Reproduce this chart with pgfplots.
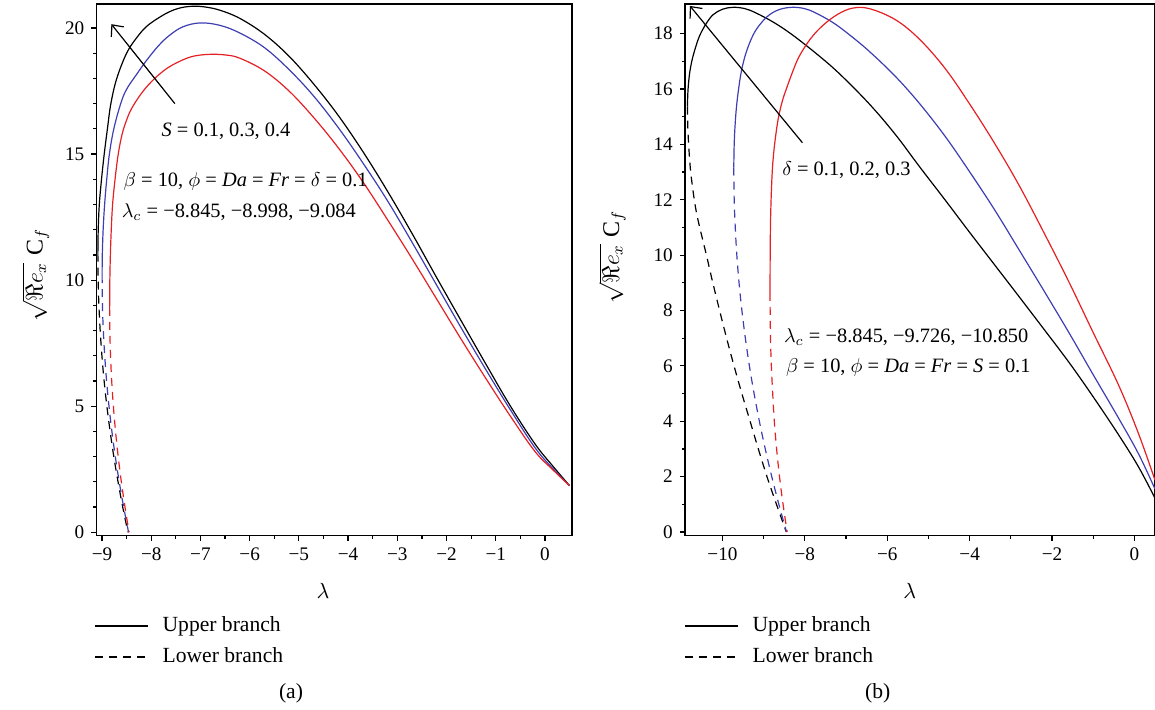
\documentclass[border=0pt]{standalone}
\usepackage{fontspec}
\setmainfont{Liberation Serif}
\usepackage{pgfplots}
\pgfplotsset{compat=1.18}
\usetikzlibrary{arrows.meta}
\definecolor{cred}{RGB}{228,32,36}
\definecolor{cblue}{RGB}{62,62,178}
\tikzset{ann/.style={font=\fontsize{10.2}{12}\selectfont, anchor=center, inner sep=0pt}}
\pgfplotsset{
  myaxis/.style={
    scale only axis,
    anchor=south west,
    clip=false,
    axis line style={line width=0.75pt},
    tick align=outside,
    xtick pos=left, ytick pos=left,
    major tick length=2.6pt, minor tick length=1.6pt,
    every tick/.style={black, line width=0.6pt},
    tick label style={font=\fontsize{9.6}{11}\selectfont},
    /pgf/number format/assume math mode=true,
    xlabel style={font=\fontsize{10.5}{12}\selectfont},
    ylabel style={font=\fontsize{12}{14}\selectfont},
    legend style={draw=none, fill=none, font=\fontsize{10.8}{13}\selectfont,
      legend cell align=left, row sep=6.5pt, column sep=7pt,
      nodes={inner sep=0pt, text height=1.6ex, text depth=0.35ex}},
    legend image code/.code={\draw[##1] (0pt,0pt) -- (26.5pt,0pt);},
  },
}
\begin{document}
\begin{tikzpicture}
\path[use as bounding box] (0,0) rectangle (577.5pt,355pt);
% ---------------- (a) ----------------
\begin{axis}[myaxis, at={(48.3pt,87.2pt)}, width=237.7pt, height=265.8pt,
  xmin=-9.11, xmax=0.55, ymin=-0.13, ymax=20.95,
  xtick={-9,-8,...,0}, xticklabels={−9,−8,−7,−6,−5,−4,−3,−2,−1,0},
  minor x tick num=1,
  ytick={0,5,10,15,20}, minor y tick num=4,
  xlabel={$\lambda$}, ylabel={$\sqrt{\Re e_x}\;\mathrm{C}_f$},
  xlabel style={at={(axis description cs:0.476,-0.104)}, anchor=center},
  ylabel style={at={(axis description cs:-0.128,0.49)}, anchor=center},
  legend style={at={(axis description cs:-0.018,-0.145)}, anchor=north west},
]
\addlegendimage{black, line width=0.6pt}
\addlegendentry{Upper branch}
\addlegendimage{black, line width=0.6pt, dash pattern=on 4pt off 3pt}
\addlegendentry{Lower branch}
% S = 0.4 (black)
\addplot[black, line width=0.6pt, smooth, tension=0.6, forget plot] coordinates {(-9.084,11.05) (-9.077,12) (-9.055,13) (-9.01,14) (-8.955,15) (-8.89,16) (-8.82,17) (-8.7,18) (-8.5,19) (-8.3,19.6) (-8.1,20.05) (-7.85,20.4) (-7.62,20.65) (-7.4,20.8) (-7.15,20.86) (-6.9,20.83) (-6.6,20.7) (-6.2,20.38) (-5.7,19.75) (-5.2,18.88) (-4.7,17.78) (-4.2,16.53) (-3.7,15.1) (-3.2,13.53) (-2.7,11.85) (-2.2,10.1) (-1.7,8.38) (-1.2,6.67) (-0.7,5.0) (-0.2,3.5) (0.15,2.65) (0.5,1.85)};
\addplot[black, line width=0.6pt, dash pattern=on 4pt off 3pt, smooth, tension=0.6, forget plot] coordinates {(-9.084,11.05) (-9.078,10) (-9.063,9) (-9.037,8) (-9.002,7) (-8.957,6) (-8.901,5) (-8.835,4) (-8.76,3) (-8.674,2) (-8.579,1) (-8.473,0)};
% S = 0.3 (blue)
\addplot[cblue, line width=0.6pt, smooth, tension=0.6, forget plot] coordinates {(-8.998,10.2) (-8.994,11) (-8.977,12) (-8.947,13) (-8.904,14) (-8.85,15) (-8.76,16) (-8.62,17) (-8.5,17.57) (-8.3,18.15) (-8.1,18.7) (-7.85,19.3) (-7.62,19.72) (-7.35,20.05) (-7.0,20.2) (-6.6,20.1) (-6.2,19.8) (-5.7,19.22) (-5.2,18.35) (-4.7,17.3) (-4.2,16.05) (-3.7,14.65) (-3.2,13.15) (-2.7,11.5) (-2.2,9.8) (-1.7,8.1) (-1.2,6.45) (-0.7,4.85) (-0.2,3.35) (0.15,2.55) (0.5,1.85)};
\addplot[cblue, line width=0.6pt, dash pattern=on 4pt off 3pt, smooth, tension=0.6, forget plot] coordinates {(-8.998,10.2) (-8.991,9) (-8.973,8) (-8.945,7) (-8.907,6) (-8.858,5) (-8.799,4) (-8.73,3) (-8.65,2) (-8.56,1) (-8.46,0)};
% S = 0.1 (red)
\addplot[cred, line width=0.6pt, smooth, tension=0.6, forget plot] coordinates {(-8.845,8.9) (-8.841,10) (-8.83,11) (-8.812,12) (-8.785,13) (-8.735,14) (-8.67,15) (-8.59,15.8) (-8.5,16.35) (-8.4,16.8) (-8.22,17.35) (-8.03,17.8) (-7.8,18.22) (-7.56,18.54) (-7.2,18.85) (-6.85,18.95) (-6.5,18.93) (-6.2,18.8) (-5.7,18.3) (-5.2,17.5) (-4.7,16.45) (-4.2,15.25) (-3.7,13.9) (-3.2,12.4) (-2.7,10.85) (-2.2,9.25) (-1.7,7.65) (-1.2,6.1) (-0.7,4.6) (-0.2,3.2) (0.15,2.5) (0.5,1.85)};
\addplot[cred, line width=0.6pt, dash pattern=on 4pt off 3pt, smooth, tension=0.6, forget plot] coordinates {(-8.845,8.9) (-8.841,8) (-8.827,7) (-8.803,6) (-8.769,5) (-8.725,4) (-8.671,3) (-8.607,2) (-8.533,1) (-8.45,0)};
\draw[-{Straight Barb[length=4.5pt,width=8pt]}, line width=0.6pt] (axis cs:-7.52,17.0) -- (axis cs:-8.81,20.15);
\node[ann] at (axis cs:-6.48,15.9) {\textit{S} = 0.1, 0.3, 0.4};
\node[ann] at (axis cs:-6.08,13.9) {$\beta$ = 10, $\phi$ = \textit{Da} = \textit{Fr} = $\delta$ = 0.1};
\node[ann] at (axis cs:-6.22,12.7) {$\lambda_c$ = −8.845, −8.998, −9.084};
\node[font=\fontsize{10.8}{13}\selectfont] at (axis description cs:0.409,-0.296) {(a)};
\end{axis}
% ---------------- (b) ----------------
\begin{axis}[myaxis, at={(342.5pt,87.2pt)}, width=235pt, height=265.8pt,
  xmin=-10.91, xmax=0.5, ymin=-0.13, ymax=19.07,
  xtick={-10,-8,...,0}, xticklabels={−10,−8,−6,−4,−2,0},
  minor x tick num=1,
  ytick={0,2,...,18}, minor y tick num=1,
  xlabel={$\lambda$}, ylabel={$\sqrt{\Re e_x}\;\mathrm{C}_f$},
  xlabel style={at={(axis description cs:0.478,-0.104)}, anchor=center},
  ylabel style={at={(axis description cs:-0.155,0.524)}, anchor=center},
  legend style={at={(axis description cs:-0.015,-0.145)}, anchor=north west},
]
\addlegendimage{black, line width=0.6pt}
\addlegendentry{Upper branch}
\addlegendimage{black, line width=0.6pt, dash pattern=on 4pt off 3pt}
\addlegendentry{Lower branch}
% delta = 0.3 (black)
\addplot[black, line width=0.6pt, smooth, tension=0.6, forget plot] coordinates {(-10.85,15.36) (-10.843,15.8) (-10.825,16.2) (-10.79,16.65) (-10.73,17.1) (-10.644,17.55) (-10.55,17.94) (-10.4,18.35) (-10.23,18.68) (-10.0,18.88) (-9.74,18.95) (-9.45,18.9) (-9.18,18.74) (-8.75,18.4) (-8.29,17.94) (-7.7,17.25) (-7.16,16.55) (-6.43,15.45) (-5.8,14.35) (-5.22,13.2) (-4.6,12.0) (-4.01,10.84) (-3.4,9.66) (-2.80,8.5) (-2.2,7.33) (-1.59,6.13) (-1.0,4.88) (-0.38,3.5) (0.1,2.35) (0.5,1.22)};
\addplot[black, line width=0.6pt, dash pattern=on 4pt off 3pt, smooth, tension=0.6, forget plot] coordinates {(-10.85,15.36) (-10.839,14.5) (-10.80,13.5) (-10.75,12.72) (-10.627,11.5) (-10.39,10) (-10.235,9) (-10.07,8) (-9.9,7) (-9.72,6) (-9.53,5) (-9.33,4) (-9.13,3) (-8.92,2) (-8.69,1) (-8.45,0)};
% delta = 0.2 (blue)
\addplot[cblue, line width=0.6pt, smooth, tension=0.6, forget plot] coordinates {(-9.726,13.16) (-9.716,14) (-9.694,14.7) (-9.66,15.36) (-9.609,16.0) (-9.54,16.65) (-9.43,17.3) (-9.26,17.94) (-9.08,18.35) (-8.86,18.68) (-8.6,18.88) (-8.3,18.95) (-8.0,18.9) (-7.73,18.74) (-7.32,18.4) (-6.92,17.96) (-6.43,17.35) (-5.8,16.45) (-5.22,15.48) (-4.6,14.3) (-4.01,13.03) (-3.4,11.65) (-2.80,10.19) (-2.2,8.72) (-1.59,7.2) (-1.0,5.68) (-0.38,4.1) (0.1,2.82) (0.5,1.55)};
\addplot[cblue, line width=0.6pt, dash pattern=on 4pt off 3pt, smooth, tension=0.6, forget plot] coordinates {(-9.726,13.16) (-9.716,12) (-9.69,11) (-9.652,10) (-9.598,9) (-9.529,8) (-9.445,7) (-9.347,6) (-9.233,5) (-9.105,4) (-8.962,3) (-8.804,2) (-8.632,1) (-8.446,0)};
% delta = 0.1 (red)
\addplot[cred, line width=0.6pt, smooth, tension=0.6, forget plot] coordinates {(-8.845,8.64) (-8.844,9.5) (-8.84,10.5) (-8.83,11.48) (-8.808,12.5) (-8.78,13.3) (-8.73,14.06) (-8.65,14.9) (-8.55,15.55) (-8.45,16.0) (-8.29,16.65) (-8.13,17.2) (-7.86,17.82) (-7.56,18.3) (-7.2,18.7) (-6.84,18.92) (-6.43,18.9) (-5.8,18.5) (-5.22,17.8) (-4.6,16.75) (-4.01,15.48) (-3.4,14.05) (-2.80,12.52) (-2.2,10.82) (-1.59,9.03) (-1.0,7.2) (-0.38,5.29) (0.1,3.55) (0.5,1.87)};
\addplot[cred, line width=0.6pt, dash pattern=on 4pt off 3pt, smooth, tension=0.6, forget plot] coordinates {(-8.845,8.64) (-8.843,8) (-8.834,7) (-8.814,6) (-8.781,5) (-8.742,4) (-8.686,3) (-8.616,2) (-8.53,1) (-8.43,0)};
\draw[-{Straight Barb[length=4.5pt,width=8pt]}, line width=0.6pt] (axis cs:-8.06,14.06) -- (axis cs:-10.79,19.0);
\node[ann] at (axis cs:-6.99,13.08) {$\delta$ = 0.1, 0.2, 0.3};
\node[ann] at (axis cs:-5.54,7.05) {$\lambda_c$ = −8.845, −9.726, −10.850};
\node[ann] at (axis cs:-5.49,5.93) {$\beta$ = 10, $\phi$ = \textit{Da} = \textit{Fr} = \textit{S} = 0.1};
\node[font=\fontsize{10.8}{13}\selectfont] at (axis description cs:0.41,-0.296) {(b)};
\end{axis}
\end{tikzpicture}
\end{document}
